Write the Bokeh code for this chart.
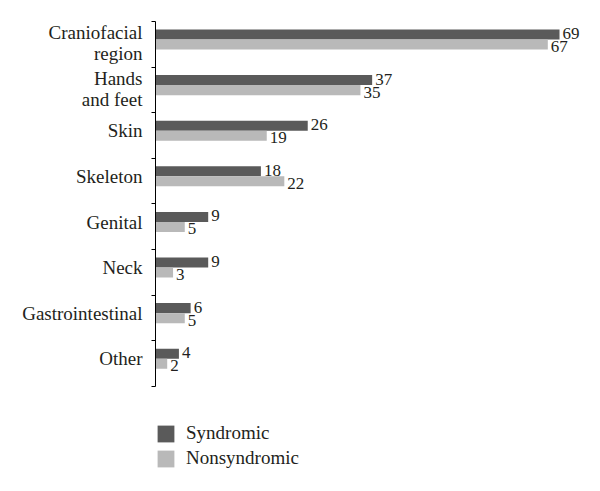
from bokeh.plotting import figure
from bokeh.models import (Range1d, FixedTicker, CustomJSTickFormatter, ColumnDataSource,
                          Legend, LegendItem)
from bokeh.core.properties import value
from bokeh.embed import file_html
from bokeh.resources import INLINE

categories = ["Craniofacial\nregion", "Hands\nand feet", "Skin", "Skeleton",
              "Genital", "Neck", "Gastrointestinal", "Other"]
syndromic = [69, 37, 26, 18, 9, 9, 6, 4]
nonsyndromic = [67, 35, 19, 22, 5, 3, 5, 2]

DARK = "#5a5a5a"
LIGHT = "#b9b9b9"
FONT = "Liberation Serif"

n = len(categories)
idx = list(range(n))
y_dark = [i + 0.285 for i in idx]
y_light = [i + 0.505 for i in idx]
label_pos = [i + (0.47 if "\n" in c else 0.40) for i, c in zip(idx, categories)]

p = figure(width=588, height=483, output_backend="svg", toolbar_location=None,
           x_range=Range1d(0, 73.95), y_range=Range1d(10.13, 0),
           x_axis_location=None, min_border_left=155, min_border_top=21,
           min_border_bottom=0, min_border_right=0)
p.outline_line_color = None
p.xgrid.visible = False
p.ygrid.visible = False
p.background_fill_color = "white"

src_d = ColumnDataSource(dict(y=y_dark, v=syndromic, t=[str(v) for v in syndromic]))
src_l = ColumnDataSource(dict(y=y_light, v=nonsyndromic, t=[str(v) for v in nonsyndromic]))

r_d = p.hbar(y="y", right="v", left=0, height=0.22, source=src_d,
             fill_color=DARK, line_color=None)
r_l = p.hbar(y="y", right="v", left=0, height=0.22, source=src_l,
             fill_color=LIGHT, line_color=None)

p.text(x="v", y="y", text="t", source=src_d, x_offset=3, y_offset=-1,
       text_font=value(FONT), text_font_size="17px", text_baseline="middle",
       text_align="left", text_color="#231f20")
p.text(x="v", y="y", text="t", source=src_l, x_offset=3, y_offset=2,
       text_font=value(FONT), text_font_size="17px", text_baseline="middle",
       text_align="left", text_color="#231f20")

ax = p.yaxis[0]
ax.ticker = FixedTicker(ticks=label_pos, minor_ticks=list(range(n + 1)))
ax.formatter = CustomJSTickFormatter(args=dict(names=categories),
                                     code="return names[index];")
ax.bounds = (0, n)
ax.major_tick_out = 0
ax.major_tick_in = 0
ax.minor_tick_out = 4
ax.minor_tick_in = 0
ax.axis_line_color = "black"
ax.minor_tick_line_color = "black"
ax.major_label_standoff = 9
ax.major_label_text_font = FONT
ax.major_label_text_font_size = "19px"
ax.major_label_text_color = "#231f20"
ax.major_label_text_line_height = 1.0

legend = Legend(items=[LegendItem(label="Syndromic", renderers=[r_d]),
                       LegendItem(label="Nonsyndromic", renderers=[r_l])],
                location=(0, 14), orientation="vertical",
                glyph_width=21, glyph_height=21, label_height=21,
                spacing=3, padding=0, margin=0, label_standoff=10,
                label_text_font=FONT, label_text_font_size="19px",
                label_text_color="#231f20",
                border_line_alpha=0, background_fill_alpha=0)
p.add_layout(legend, "center")

open("out.html", "w").write(file_html(p, INLINE))
